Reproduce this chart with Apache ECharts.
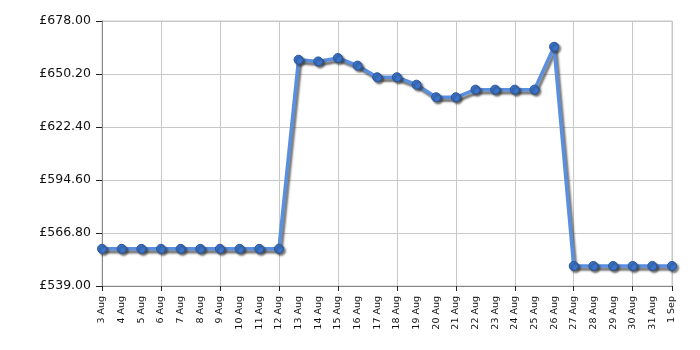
<!DOCTYPE html>
<html>
<head>
<meta charset="utf-8">
<script src="https://cdn.jsdelivr.net/npm/echarts@6/dist/echarts.min.js"></script>
<style>
html,body{margin:0;padding:0;background:#fff;}
#chart{width:700px;height:350px;}
</style>
</head>
<body>
<div id="chart"></div>
<script>
const categories = ['3 Aug','4 Aug','5 Aug','6 Aug','7 Aug','8 Aug','9 Aug','10 Aug','11 Aug','12 Aug','13 Aug','14 Aug','15 Aug','16 Aug','17 Aug','18 Aug','19 Aug','20 Aug','21 Aug','22 Aug','23 Aug','24 Aug','25 Aug','26 Aug','27 Aug','28 Aug','29 Aug','30 Aug','31 Aug','1 Sep'];
const prices = [558.5,558.5,558.5,558.5,558.5,558.5,558.5,558.5,558.5,558.5,657.7,656.8,658.6,654.6,648.5,648.5,644.6,638.0,638.0,642.0,642.0,642.0,642.0,664.5,549.5,549.5,549.5,549.5,549.5,549.5];
const yMin = 539.0, yMax = 678.0, yStep = 27.8;

const chart = echarts.init(document.getElementById('chart'), null, {renderer:'canvas'});
chart.setOption({
  animation:false,
  backgroundColor:'#fff',
  grid:{left:102,right:28,top:21,bottom:64,show:true,borderColor:'#c8c8c8',borderWidth:1},
  xAxis:{
    type:'category',
    data:categories,
    boundaryGap:false,
    axisLine:{lineStyle:{color:'#888',width:1}},
    axisTick:{show:true,interval:2,length:5,lineStyle:{color:'#222'}},
    axisLabel:{interval:0,rotate:90,fontFamily:'DejaVu Sans',fontSize:9.5,color:'#111',margin:10},
    splitLine:{show:true,interval:2,lineStyle:{color:'#c8c8c8',width:1}}
  },
  yAxis:{
    type:'value',
    min:yMin,max:yMax,interval:yStep,
    axisLine:{show:true,lineStyle:{color:'#888',width:1}},
    axisTick:{show:true,length:6,lineStyle:{color:'#222'}},
    axisLabel:{fontFamily:'DejaVu Sans',fontSize:12.5,color:'#111',margin:11,
      formatter:v=>'£'+v.toFixed(2)},
    splitLine:{show:true,lineStyle:{color:'#c8c8c8',width:1}}
  },
  series:[{
    type:'line',
    data:prices,
    symbol:'circle',
    symbolSize:9,
    lineStyle:{color:'#5a8fe0',width:3.5,shadowColor:'rgba(60,60,60,0.7)',shadowOffsetX:2,shadowOffsetY:3,shadowBlur:2},
    itemStyle:{color:'#3a74cc',borderColor:'#2a5599',borderWidth:1,shadowColor:'rgba(40,40,40,0.6)',shadowOffsetX:2,shadowOffsetY:2,shadowBlur:2}
  }]
});
</script>
</body>
</html>
